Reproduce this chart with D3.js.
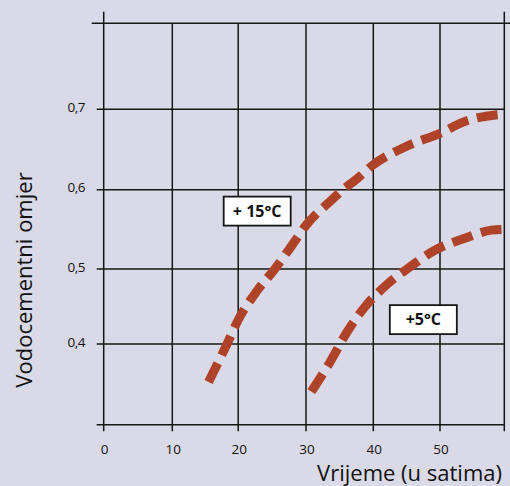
<!DOCTYPE html>
<html>
<head>
<meta charset="utf-8">
<script src="https://cdn.jsdelivr.net/npm/d3@7"></script>
<style>
  html, body { margin: 0; padding: 0; background: #dad9e7; }
  svg { display: block; font-family: "Open Sans", "Noto Sans", sans-serif; }
</style>
</head>
<body>
<svg id="chart" width="510" height="486"></svg>
<script>
// hours on x, water/cement ratio on y
const xTicks = [0, 10, 20, 30, 40, 50, 60];
const xTickLabels = ['0', '10', '20', '30', '40', '50', ''];
const yGrid = [0.3, 0.4, 0.5, 0.6, 0.7, 0.8];
const yTicks = [0.4, 0.5, 0.6, 0.7];
const yTickLabels = ['0,4', '0,5', '0,6', '0,7'];

const hours15 = [15.5, 18.3, 20, 22.7, 25.4, 28.1, 30, 33.8, 35.5, 37.5, 40, 45.0, 50, 53.6, 59.9];
const ratio15 = [0.353, 0.400, 0.432, 0.470, 0.500, 0.532, 0.555, 0.587, 0.600, 0.613, 0.631, 0.654, 0.670, 0.684, 0.694];
const hours5 = [30.8, 33.6, 36.1, 38.8, 42.0, 45.4, 49.3, 53.6, 58.0, 59.8];
const ratio5 = [0.341, 0.378, 0.416, 0.450, 0.479, 0.502, 0.524, 0.538, 0.549, 0.550];

const seriesLabels = ['+ 15°C', '+5°C'];
const labelHours = [22.8, 47.5];
const labelRatio = [0.573, 0.4325];

const svg = d3.select('#chart');

// the grid in the original is hand drawn, spacing is not quite even
const x = d3.scaleLinear()
  .domain(xTicks)
  .range([103.7, 172.3, 238.2, 306, 373.3, 440, 504.3]);
const y = d3.scaleLinear()
  .domain(yGrid)
  .range([424.7, 344, 269, 189.7, 109.2, 23.3]);

const ink = '#161616';

// horizontal grid lines
svg.append('g')
  .selectAll('line')
  .data(yGrid)
  .join('line')
  .attr('x1', d => d === 0.8 ? x(0) - 12 : x(0) - 7)
  .attr('x2', d => d === 0.8 ? 510 : x(60))
  .attr('y1', d => y(d))
  .attr('y2', d => y(d))
  .attr('stroke', ink)
  .attr('stroke-width', 1.5);

// vertical grid lines
svg.append('g')
  .selectAll('line')
  .data(xTicks)
  .join('line')
  .attr('x1', d => x(d))
  .attr('x2', d => x(d))
  .attr('y1', d => (d === 0 || d === 60) ? y(0.8) - 11.5 : y(0.8))
  .attr('y2', y(0.3) + 6.5)
  .attr('stroke', ink)
  .attr('stroke-width', 1.5);

// tick labels
svg.append('g')
  .selectAll('text')
  .data(xTicks)
  .join('text')
  .attr('x', d => x(d) + 1)
  .attr('y', 454)
  .attr('text-anchor', 'middle')
  .style('font-size', '13.5px')
  .attr('fill', '#111')
  .text((d, i) => xTickLabels[i]);

svg.append('g')
  .selectAll('text')
  .data(yTicks)
  .join('text')
  .attr('x', 85)
  .attr('y', d => y(d) + 2.5)
  .attr('text-anchor', 'end')
  .style('font-size', '13.5px')
  .style('letter-spacing', '-0.5px')
  .attr('fill', '#111')
  .text((d, i) => yTickLabels[i]);

// axis titles
svg.append('text')
  .attr('transform', 'translate(31.5,280) rotate(-90)')
  .attr('text-anchor', 'middle')
  .style('font-size', '22px')
  .attr('fill', '#111')
  .text('Vodocementni omjer');

svg.append('text')
  .attr('x', 502)
  .attr('y', 481)
  .attr('text-anchor', 'end')
  .style('font-size', '22px')
  .attr('fill', '#111')
  .text('Vrijeme (u satima)');

// curves
const line = d3.line()
  .x(d => x(d[0]))
  .y(d => y(d[1]))
  .curve(d3.curveMonotoneX);

const curves = [
  d3.zip(hours15, ratio15),
  d3.zip(hours5, ratio5)
];

svg.append('g')
  .selectAll('path')
  .data(curves)
  .join('path')
  .attr('d', line)
  .attr('fill', 'none')
  .attr('stroke', '#ae4329')
  .attr('stroke-width', 9)
  .attr('stroke-dasharray', '21,9')
  .attr('stroke-linecap', 'butt');

// series labels in boxes
const tags = svg.append('g')
  .selectAll('g')
  .data(seriesLabels)
  .join('g')
  .attr('transform', (d, i) => `translate(${x(labelHours[i])},${y(labelRatio[i])})`);

tags.append('rect')
  .attr('x', -33.5)
  .attr('y', -14.5)
  .attr('width', 67)
  .attr('height', 29)
  .attr('fill', '#fff')
  .attr('stroke', ink)
  .attr('stroke-width', 1.8);

tags.append('text')
  .attr('text-anchor', 'middle')
  .attr('y', 5.5)
  .style('font-size', '16px')
  .style('font-weight', 'bold')
  .attr('fill', '#111')
  .text(d => d);
</script>
</body>
</html>
